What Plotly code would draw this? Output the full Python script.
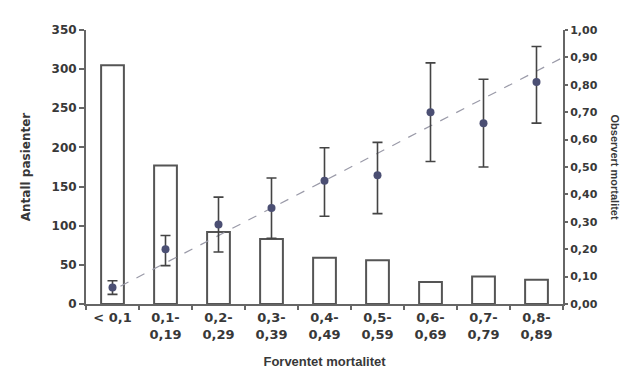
import plotly.graph_objects as go

categories = ["< 0,1", "0,1-<br>0,19", "0,2-<br>0,29", "0,3-<br>0,39", "0,4-<br>0,49",
              "0,5-<br>0,59", "0,6-<br>0,69", "0,7-<br>0,79", "0,8-<br>0,89"]
patients = [305, 177, 92, 83, 59, 56, 28, 35, 31]
observed = [0.06, 0.20, 0.29, 0.35, 0.45, 0.47, 0.70, 0.66, 0.81]
obs_upper = [0.085, 0.25, 0.39, 0.46, 0.57, 0.59, 0.88, 0.82, 0.94]
obs_lower = [0.035, 0.14, 0.19, 0.24, 0.32, 0.33, 0.52, 0.50, 0.66]
ref_x = [0.15, 8.85]
ref_y = [0.065, 0.935]
left_ticks = [0, 50, 100, 150, 200, 250, 300, 350]
right_ticks = [0.0, 0.1, 0.2, 0.3, 0.4, 0.5, 0.6, 0.7, 0.8, 0.9, 1.0]
right_labels = ["0,00", "0,10", "0,20", "0,30", "0,40", "0,50", "0,60", "0,70", "0,80", "0,90", "1,00"]

xpos = list(range(len(categories)))
err_plus = [u - o for u, o in zip(obs_upper, observed)]
err_minus = [o - l for o, l in zip(observed, obs_lower)]

FONT = "DejaVu Sans, sans-serif"
TFONT = "Liberation Sans, Arial, sans-serif"
TXT = "#383838"
AX = "#666666"

fig = go.Figure()
fig.add_trace(go.Bar(x=xpos, y=patients, width=0.43,
                     marker=dict(color="white", line=dict(color="#555555", width=2)),
                     yaxis="y", showlegend=False))
fig.add_trace(go.Scatter(x=ref_x, y=ref_y, mode="lines", yaxis="y2",
                         line=dict(color="#9a9aa8", width=1.2, dash="dash"), showlegend=False))
fig.add_trace(go.Scatter(x=xpos, y=observed, mode="markers", yaxis="y2",
                         marker=dict(color="#4b4f73", size=8),
                         error_y=dict(type="data", symmetric=False, array=err_plus,
                                      arrayminus=err_minus, color="#444444",
                                      thickness=1.6, width=5),
                         showlegend=False))

fig.update_layout(
    width=629, height=374,
    margin=dict(l=78, r=74, t=22, b=78),
    paper_bgcolor="white", plot_bgcolor="white",
    font=dict(family=FONT, size=12, color=TXT),
    xaxis=dict(range=[-0.5, 8.5], tickvals=xpos, ticktext=["<b>%s</b>" % c for c in categories],
               showgrid=False, zeroline=False, showline=True, linecolor=AX, linewidth=2,
               ticks="", ticklen=0,
               minor=dict(ticks="outside", tick0=0.5, dtick=1, ticklen=4, tickcolor=AX, tickwidth=2),
               tickfont=dict(size=13, color=TXT),
               title=dict(text="<b>Forventet mortalitet</b>", font=dict(size=13, color=TXT, family=TFONT), standoff=16)),
    yaxis=dict(range=[0, 350], tickvals=left_ticks, ticktext=["<b>%d</b>" % v for v in left_ticks],
               showgrid=False, zeroline=False, showline=True, linecolor=AX, linewidth=2,
               ticks="outside", ticklen=5, tickcolor=AX, tickwidth=2,
               tickfont=dict(size=12, color=TXT),
               title=dict(text="<b>Antall pasienter</b>", font=dict(size=12, color=TXT), standoff=18)),
    yaxis2=dict(range=[0, 1.0], overlaying="y", side="right", tickvals=right_ticks,
                ticktext=["<b>%s</b>" % t for t in right_labels],
                showgrid=False, zeroline=False, showline=True, linecolor=AX, linewidth=2,
                ticks="outside", ticklen=3, tickcolor=AX, tickwidth=2,
                tickfont=dict(size=11, color=TXT)),
    annotations=[dict(text="<b>Observert mortalitet</b>", xref="paper", yref="paper",
                      x=1.108, y=0.5, xanchor="center", yanchor="middle", textangle=90, showarrow=False,
                      font=dict(size=11, color=TXT, family=TFONT))],
)

fig.write_html("out.html")
